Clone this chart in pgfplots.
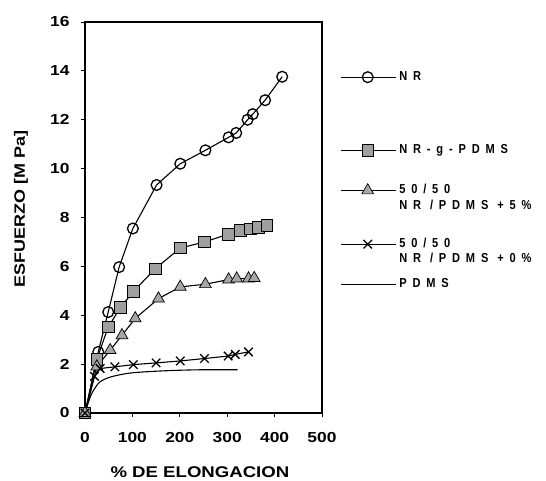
\documentclass[border=0pt]{standalone}
\usepackage{fontspec}
\setmainfont{Liberation Sans}
\newfontfamily\tickfont[FakeStretch=1.2]{Liberation Sans}
\newfontfamily\legfont[FakeStretch=0.85,LetterSpace=45]{Liberation Sans}
\usepackage{pgfplots}
\pgfplotsset{compat=1.18}

\tikzset{
  lt/.style={inner sep=0pt, text height=9.5pt, text depth=3.5pt, anchor=west,
             font=\legfont\bfseries\fontsize{13}{15}\selectfont},
  sp/.style={inner sep=0pt, text height=#1, text depth=0pt, anchor=west},
}

\begin{document}
\begin{tikzpicture}
\path[use as bounding box] (0,0) rectangle (546pt,480pt);
\begin{axis}[
  at={(85pt,67pt)}, anchor=south west,
  scale only axis, width=237pt, height=391pt,
  xmin=0, xmax=500, ymin=0, ymax=16,
  xtick={0,100,...,500}, ytick={0,2,...,16},
  tick pos=left, tick align=outside, major tick length=4pt,
  axis line style={line width=1.1pt},
  tick style={line width=0.8pt, black},
  ticklabel style={font=\tickfont\bfseries\fontsize{14.5}{16}\selectfont},
  /pgf/number format/assume math mode=true,
  xticklabel style={yshift=-12pt},
  yticklabel style={xshift=-8pt},
  xlabel={\% DE ELONGACION}, ylabel={ESFUERZO [M Pa]},
  xlabel style={at={(axis description cs:0.485,-0.166)}, anchor=base,
                font=\tickfont\bfseries\fontsize{15.5}{17}\selectfont},
  ylabel style={at={(axis description cs:-0.2532,0.523)}, anchor=base,
                font=\tickfont\bfseries\fontsize{15}{17}\selectfont},
  legend style={at={(axis description cs:1.0759,0.876)}, anchor=north west,
                draw=none, fill=none, inner sep=0pt, row sep=0pt, column sep=3pt},
  legend image code/.code={\draw[mark repeat=2,mark phase=2]
      plot coordinates {(0pt,0pt) (27pt,0pt) (55pt,0pt)};},
  every axis plot/.append style={line width=1.1pt, black},
]
% NR
\addplot[mark=o, mark size=5.4pt, mark options={fill=white, line width=1.3pt}] coordinates {
(0,0) (28,2.5) (49,4.13) (72,5.97) (101,7.55) (151,9.33) (201,10.2)
(254,10.75) (303,11.28) (319,11.46) (343,12.0) (354,12.23) (380,12.8) (416,13.76)
};
\addlegendentry[lt]{NR}
\addlegendimage{empty legend}\addlegendentry[sp=60pt]{\phantom{x}}
% NR-g-PDMS
\addplot[mark=square*, mark size=5.8pt, mark options={fill=gray!75, draw=black, line width=0.7pt}] coordinates {
(0,0) (25,2.2) (49,3.52) (75,4.32) (102,4.97) (148,5.9) (201,6.75)
(252,7.0) (303,7.32) (328,7.47) (349,7.54) (366,7.6) (384,7.67)
};
\addlegendentry[lt]{NR-g-PDMS}
\addlegendimage{empty legend}\addlegendentry[sp=27pt]{\phantom{x}}
% 50/50 +5%
\addplot[mark=triangle*, mark size=6.8pt, mark options={fill=gray!70, draw=black, line width=0.7pt}] coordinates {
(0,0) (25,1.9) (53,2.57) (78,3.18) (106,3.87) (155,4.68) (201,5.16)
(254,5.27) (303,5.46) (320,5.5) (345,5.5) (357,5.52)
};
\addlegendentry[lt]{50/50}
\addlegendimage{empty legend}\addlegendentry[sp=3pt]{\phantom{x}}
\addlegendimage{empty legend}\addlegendentry[lt]{NR /PDMS +5\%}
\addlegendimage{empty legend}\addlegendentry[sp=24.7pt]{\phantom{x}}
% 50/50 +0%
\addplot[mark=x, mark size=6pt, mark options={line width=1.3pt}] coordinates {
(0,0) (20,1.5) (32,1.82) (63,1.89) (102,1.98) (150,2.05) (201,2.13)
(252,2.23) (302,2.33) (317,2.4) (345,2.5)
};
\addlegendentry[lt]{50/50}
\addlegendimage{empty legend}\addlegendentry[sp=2.6pt]{\phantom{x}}
\addlegendimage{empty legend}\addlegendentry[lt]{NR /PDMS +0\%}
\addlegendimage{empty legend}\addlegendentry[sp=11.4pt]{\phantom{x}}
% PDMS
\addplot[no marks, smooth] coordinates {
(0,0) (12,0.7) (22,1.05) (32,1.28) (50,1.45) (75,1.57) (102,1.65)
(150,1.71) (200,1.75) (250,1.77) (322,1.77)
};
\addlegendentry[lt]{PDMS}
\end{axis}
\end{tikzpicture}
\end{document}
